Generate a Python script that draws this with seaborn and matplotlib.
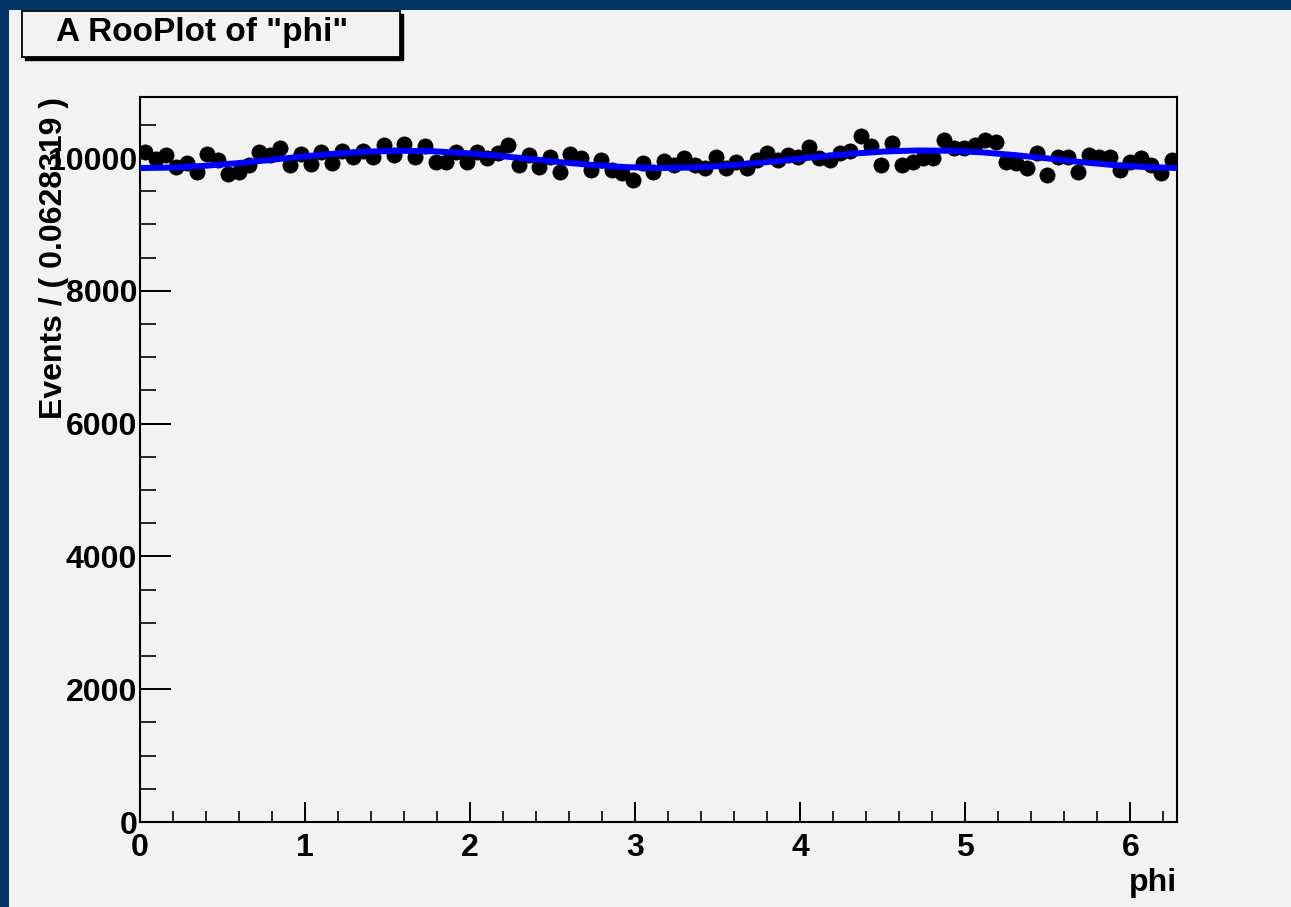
import numpy as np
import pandas as pd
import matplotlib
matplotlib.use("Agg")
import matplotlib.pyplot as plt
from matplotlib.patches import Rectangle
from matplotlib.ticker import MultipleLocator
import seaborn as sns

N_BINS = 100
BIN_WIDTH = 0.0628319

counts = [
    10090, 9990, 10040, 9870, 9920, 9795, 10055, 9970, 9755, 9795,
    9895, 10095, 10045, 10145, 9895, 10055, 9905, 10090, 9920, 10110,
    10020, 10100, 10020, 10200, 10045, 10210, 10020, 10180, 9945, 9945,
    10095, 9945, 10095, 9995, 10080, 10200, 9895, 10045, 9870, 10020,
    9795, 10055, 9995, 9820, 9970, 9820, 9770, 9670, 9920, 9795,
    9955, 9895, 9995, 9895, 9845, 10020, 9845, 9945, 9845, 9970,
    10070, 9970, 10045, 10020, 10170, 9995, 9970, 10080, 10100, 10330,
    10180, 9895, 10220, 9895, 9945, 9995, 9995, 10270, 10145, 10145,
    10195, 10270, 10245, 9945, 9920, 9845, 10070, 9745, 10020, 10020,
    9795, 10045, 10020, 10020, 9820, 9945, 9995, 9895, 9770, 9970,
]

fit_phi = [0.00, 0.20, 0.39, 0.59, 0.79, 0.98, 1.18, 1.37, 1.57, 1.77, 1.96,
           2.16, 2.36, 2.55, 2.75, 2.95, 3.14, 3.34, 3.53, 3.73, 3.93, 4.12,
           4.32, 4.52, 4.71, 4.91, 5.11, 5.30, 5.50, 5.69, 5.89, 6.09, 6.28]
fit_values = [9850, 9857, 9883, 9923, 9972, 10023, 10066, 10097, 10110, 10103,
              10077, 10037, 9988, 9937, 9894, 9863, 9850, 9857, 9883, 9923,
              9972, 10023, 10068, 10100, 10115, 10110, 10085, 10045, 9995,
              9942, 9897, 9865, 9851]

x_major = [0, 1, 2, 3, 4, 5, 6]
y_major = [0, 2000, 4000, 6000, 8000, 10000]

phi_centers = (np.arange(N_BINS) + 0.5) * BIN_WIDTH
df = pd.DataFrame({"phi": phi_centers, "events": counts})
df["err"] = np.sqrt(df["events"])
fit_df = pd.DataFrame({"phi": fit_phi, "pdf": fit_values})

# ── Style ──────────────────────────────────────────────────
sns.set_theme(style="ticks")
plt.rcParams["font.family"] = ["Liberation Sans", "DejaVu Sans"]
plt.rcParams["font.weight"] = "bold"
plt.rcParams["text.color"] = "black"
plt.rcParams["axes.labelcolor"] = "black"

BG = "#f2f2f2"
FRAME = "#033567"
FS = 23

fig = plt.figure(figsize=(12.91, 9.07), dpi=100, facecolor=BG)
ax = fig.add_axes([140 / 1291, 1 - 822 / 907, 1037 / 1291, 725 / 907])
ax.set_facecolor(BG)

ax.errorbar(df["phi"], df["events"], yerr=df["err"], fmt="none",
            ecolor="black", elinewidth=1.3, zorder=2)
sns.scatterplot(data=df, x="phi", y="events", color="black", s=120,
                marker="o", edgecolor="black", linewidth=0.5, ax=ax, zorder=3)
sns.lineplot(data=fit_df, x="phi", y="pdf", color="#0000ff", linewidth=4.3,
             ax=ax, zorder=4)

ax.set_xlim(0, 2 * np.pi)
ax.set_ylim(0, 10920)
ax.set_xticks(x_major)
ax.set_yticks(y_major)
ax.xaxis.set_minor_locator(MultipleLocator(0.2))
ax.yaxis.set_minor_locator(MultipleLocator(500))
ax.set_xticklabels([str(v) for v in x_major], fontsize=FS, fontweight="bold")
ax.set_yticklabels([str(v) for v in y_major], fontsize=FS, fontweight="bold")

ax.tick_params(axis="x", which="major", direction="in", length=14.5, width=1.4,
               pad=8, colors="black")
ax.tick_params(axis="x", which="minor", direction="in", length=8, width=1.4)
ax.tick_params(axis="y", which="major", direction="in", length=22, width=1.4,
               pad=2, colors="black")
ax.tick_params(axis="y", which="minor", direction="in", length=11.5, width=1.4)

for side in ["top", "right", "bottom", "left"]:
    ax.spines[side].set_visible(True)
    ax.spines[side].set_color("black")
    ax.spines[side].set_linewidth(1.5)

ax.set_xlabel("phi", loc="right", fontsize=FS, fontweight="bold", color="black")
ax.xaxis.set_label_coords(1.0, -0.064)
ax.set_ylabel("Events / ( 0.0628319 )", loc="top", fontsize=FS, fontweight="bold",
              color="black")
ax.yaxis.set_label_coords(-0.068, 1.0)

# dark blue canvas border (top + left)
fig.patches.append(Rectangle((0, 1 - 10 / 907), 1, 10 / 907, transform=fig.transFigure,
                             facecolor=FRAME, edgecolor="none", zorder=0))
fig.patches.append(Rectangle((0, 0), 9 / 1291, 1, transform=fig.transFigure,
                             facecolor=FRAME, edgecolor="none", zorder=0))

# title box with drop shadow
bx, by, bw, bh = 22 / 1291, 1 - 57 / 907, 378 / 1291, 46 / 907
fig.patches.append(Rectangle((bx + 3 / 1291, by - 3 / 907), bw, bh, transform=fig.transFigure,
                             facecolor="black", edgecolor="black", zorder=1))
fig.patches.append(Rectangle((bx, by), bw, bh, transform=fig.transFigure,
                             facecolor=BG, edgecolor="black", linewidth=1.3, zorder=2))
fig.text(202 / 1291, by + bh / 2 + 1 / 907, 'A RooPlot of "phi"', ha="center", va="center",
         fontsize=24, fontweight="bold", color="black", zorder=3)

fig.savefig("out.png", dpi=100, facecolor=BG)
plt.close("all")
